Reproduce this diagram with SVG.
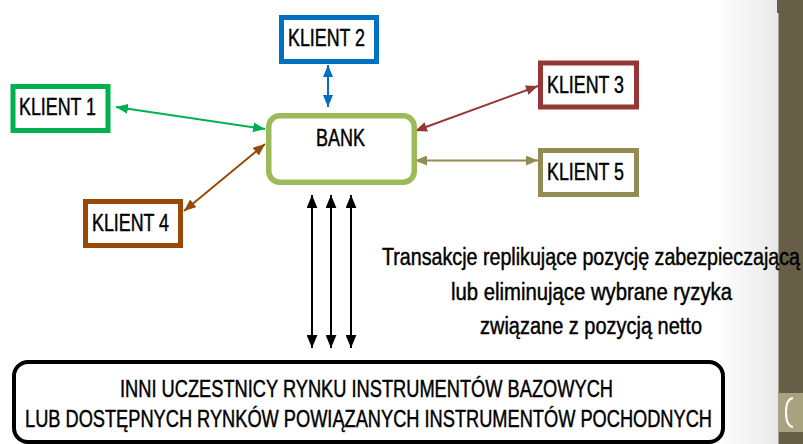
<svg xmlns="http://www.w3.org/2000/svg" width="803" height="444" viewBox="0 0 803 444">
  <style>
    text { font-family: "Liberation Sans", Arial, sans-serif; font-size: 23.5px; fill: #000; stroke: #000; stroke-width: 0.45px; }
    .box { fill: #fff; stroke-width: 5; }
    .conn { fill: none; stroke-width: 2; }
  </style>
  <defs>
    <linearGradient id="edgeShade" x1="0" y1="0" x2="1" y2="0">
      <stop offset="0" stop-color="#ffffff"/>
      <stop offset="1" stop-color="#e9e9e9"/>
    </linearGradient>
    <marker id="arrGreen" viewBox="0 0 12 10" refX="12" refY="5" markerWidth="12" markerHeight="10" markerUnits="userSpaceOnUse" orient="auto-start-reverse">
      <path d="M0,0 L12,5 L0,10 z" fill="#00b050"/>
    </marker>
    <marker id="arrBlue" viewBox="0 0 12 10" refX="12" refY="5" markerWidth="12" markerHeight="10" markerUnits="userSpaceOnUse" orient="auto-start-reverse">
      <path d="M0,0 L12,5 L0,10 z" fill="#0070c0"/>
    </marker>
    <marker id="arrRed" viewBox="0 0 12 10" refX="12" refY="5" markerWidth="12" markerHeight="10" markerUnits="userSpaceOnUse" orient="auto-start-reverse">
      <path d="M0,0 L12,5 L0,10 z" fill="#953735"/>
    </marker>
    <marker id="arrOlive" viewBox="0 0 12 10" refX="12" refY="5" markerWidth="12" markerHeight="10" markerUnits="userSpaceOnUse" orient="auto-start-reverse">
      <path d="M0,0 L12,5 L0,10 z" fill="#948a54"/>
    </marker>
    <marker id="arrBrown" viewBox="0 0 12 10" refX="12" refY="5" markerWidth="12" markerHeight="10" markerUnits="userSpaceOnUse" orient="auto-start-reverse">
      <path d="M0,0 L12,5 L0,10 z" fill="#984807"/>
    </marker>
    <marker id="arrBlack" viewBox="0 0 12 10" refX="12" refY="5" markerWidth="13" markerHeight="11" markerUnits="userSpaceOnUse" orient="auto-start-reverse">
      <path d="M0,0 L12,5 L0,10 z" fill="#000"/>
    </marker>
  </defs>

  <!-- page background and side strip -->
  <rect x="0" y="0" width="803" height="444" fill="#ffffff"/>
  <rect x="715" y="0" width="63" height="444" fill="url(#edgeShade)"/>
  <rect x="777" y="0" width="26" height="444" fill="#665e47"/>
  <rect x="777" y="13" width="1.5" height="431" fill="#e6e6e6"/>
  <rect x="778.5" y="393" width="24.5" height="39" fill="#a9a27e"/>
  <path d="M793,398 Q786,399 786,412 Q786,426 793,427" fill="none" stroke="#ffffff" stroke-width="2"/>

  <!-- connectors -->
  <g id="connectors">
    <line class="conn" x1="328" y1="65" x2="328" y2="107" stroke="#0070c0" marker-start="url(#arrBlue)" marker-end="url(#arrBlue)"/>
    <line class="conn" x1="116" y1="107" x2="265" y2="129" stroke="#00b050" marker-start="url(#arrGreen)" marker-end="url(#arrGreen)"/>
    <line class="conn" x1="184" y1="211" x2="265" y2="144" stroke="#984807" marker-start="url(#arrBrown)" marker-end="url(#arrBrown)"/>
    <line class="conn" x1="538" y1="86" x2="415" y2="131" stroke="#953735" marker-start="url(#arrRed)" marker-end="url(#arrRed)"/>
    <line class="conn" x1="415" y1="160.5" x2="538" y2="160.5" stroke="#948a54" marker-start="url(#arrOlive)" marker-end="url(#arrOlive)"/>
    <line class="conn" x1="312" y1="195" x2="312" y2="348" stroke="#000" stroke-width="2.5" marker-start="url(#arrBlack)" marker-end="url(#arrBlack)"/>
    <line class="conn" x1="331" y1="195" x2="331" y2="348" stroke="#000" stroke-width="2.5" marker-start="url(#arrBlack)" marker-end="url(#arrBlack)"/>
    <line class="conn" x1="351" y1="195" x2="351" y2="348" stroke="#000" stroke-width="2.5" marker-start="url(#arrBlack)" marker-end="url(#arrBlack)"/>
  </g>

  <!-- nodes -->
  <g id="bank">
    <rect x="268.75" y="115.75" width="145.5" height="66.5" rx="11" fill="#fff" stroke="#9bbb59" stroke-width="5.5"/>
    <text x="316" y="146" textLength="49" lengthAdjust="spacingAndGlyphs">BANK</text>
  </g>
  <g id="klient1">
    <rect class="box" x="13" y="86.5" width="95" height="44" stroke="#00b050"/>
    <text x="19" y="115" textLength="77" lengthAdjust="spacingAndGlyphs">KLIENT 1</text>
  </g>
  <g id="klient2">
    <rect class="box" x="281.5" y="17.5" width="95" height="44" stroke="#0070c0"/>
    <text x="288" y="46" textLength="77" lengthAdjust="spacingAndGlyphs">KLIENT 2</text>
  </g>
  <g id="klient3">
    <rect class="box" x="540.5" y="63" width="96" height="44" stroke="#953735"/>
    <text x="547" y="93" textLength="77" lengthAdjust="spacingAndGlyphs">KLIENT 3</text>
  </g>
  <g id="klient4">
    <rect class="box" x="85.5" y="201.5" width="95" height="44" stroke="#984807"/>
    <text x="92" y="231" textLength="77" lengthAdjust="spacingAndGlyphs">KLIENT 4</text>
  </g>
  <g id="klient5">
    <rect class="box" x="540.5" y="150.5" width="96" height="44" stroke="#948a54"/>
    <text x="547" y="180" textLength="77" lengthAdjust="spacingAndGlyphs">KLIENT 5</text>
  </g>
  <g id="rynek">
    <rect x="14" y="362" width="709" height="80" rx="14" fill="#fff" stroke="#000" stroke-width="4"/>
    <text x="120" y="397" textLength="493" lengthAdjust="spacingAndGlyphs">INNI UCZESTNICY RYNKU INSTRUMENTÓW BAZOWYCH</text>
    <text x="25" y="427" textLength="687" lengthAdjust="spacingAndGlyphs">LUB DOSTĘPNYCH RYNKÓW POWIĄZANYCH INSTRUMENTÓW POCHODNYCH</text>
  </g>

  <!-- annotation for the vertical arrows -->
  <g id="opis">
    <text x="382" y="265" textLength="418" lengthAdjust="spacingAndGlyphs">Transakcje replikujące pozycję zabezpieczającą</text>
    <text x="451" y="300" textLength="281" lengthAdjust="spacingAndGlyphs">lub eliminujące wybrane ryzyka</text>
    <text x="480" y="334" textLength="222" lengthAdjust="spacingAndGlyphs">związane z pozycją netto</text>
  </g>
</svg>
